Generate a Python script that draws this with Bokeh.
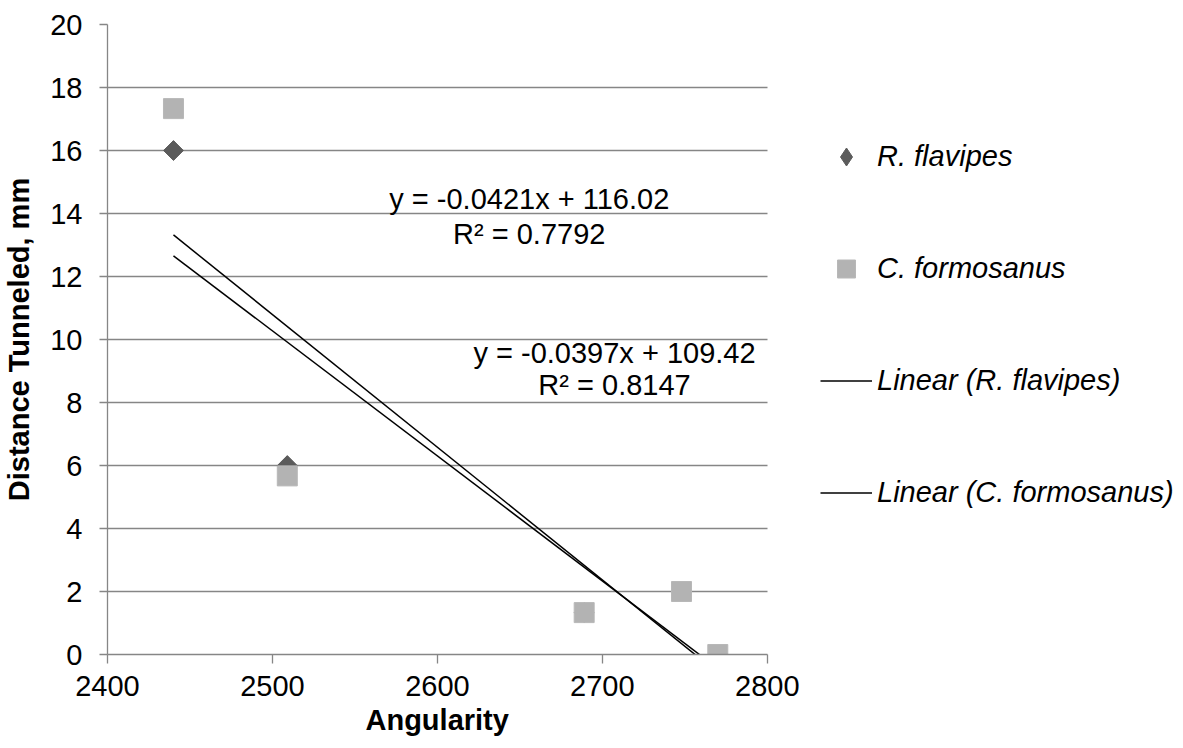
import numpy as np
from bokeh.plotting import figure
from bokeh.models import Legend, LegendItem, Range1d, FixedTicker, ColumnDataSource, Title
from bokeh.core.properties import value
from bokeh.embed import file_html
from bokeh.resources import INLINE

# ---- data ----
angularity = [2440, 2509, 2689, 2748, 2770]
r_flavipes = [16.0, 6.0, 1.33, 2.0, 0.0]
c_formosanus = [17.33, 5.67, 1.33, 2.0, 0.0]
x_ticks = [2400, 2500, 2600, 2700, 2800]
y_ticks = [0, 2, 4, 6, 8, 10, 12, 14, 16, 18, 20]
eq_c_form = ["y = -0.0421x + 116.02", "R² = 0.7792"]
eq_r_flav = ["y = -0.0397x + 109.42", "R² = 0.8147"]

X_MIN, X_MAX = 2400, 2800

FONT = "Liberation Sans"
FS = "29px"
GRID = "#868686"
DARK = "#5b5b5b"
LIGHT = "#b3b3b3"

# layout: plotting area 105..766 px wide; frame extended to the right edge so the
# legend (drawn inside the frame) is not clipped
W, H = 1183, 748
LEFT, AXIS_RIGHT = 105, 766
x_view_end = X_MAX + (X_MAX - X_MIN) * (W - AXIS_RIGHT) / (AXIS_RIGHT - LEFT)

p = figure(width=W, height=H, output_backend="svg", toolbar_location=None,
           x_range=Range1d(X_MIN, x_view_end), y_range=Range1d(0, 20),
           min_border_left=LEFT, min_border_right=0, min_border_top=24, min_border_bottom=94)
p.outline_line_color = None
p.background_fill_color = "white"
p.border_fill_color = "white"

p.xgrid.visible = False
p.ygrid.grid_line_color = GRID
p.ygrid.grid_line_width = 1.3
p.ygrid.ticker = FixedTicker(ticks=y_ticks)
p.ygrid.cross_bounds = (X_MIN, X_MAX)
p.xaxis.ticker = FixedTicker(ticks=x_ticks)
p.yaxis.ticker = FixedTicker(ticks=y_ticks)
p.xaxis.bounds = (X_MIN, X_MAX)

for ax in (p.xaxis[0], p.yaxis[0]):
    ax.axis_line_color = GRID
    ax.axis_line_width = 1.3
    ax.major_tick_line_color = GRID
    ax.major_tick_line_width = 1.3
    ax.major_tick_in = 0
    ax.minor_tick_line_color = None
    ax.major_label_text_font = FONT
    ax.major_label_text_font_size = FS
    ax.major_label_text_color = "black"
    ax.axis_label_text_font = FONT
    ax.axis_label_text_font_size = FS
    ax.axis_label_text_font_style = "bold"
    ax.axis_label_text_color = "black"

p.xaxis.major_tick_out = 9
p.xaxis.major_label_standoff = 12
p.yaxis.major_tick_out = 8
p.yaxis.major_label_standoff = 17
p.yaxis.axis_label = "Distance Tunneled, mm"
p.yaxis.axis_label_standoff = 12

# x-axis title, centred under the 2400..2800 axis (not under the whole frame)
x_title = Title(text="Angularity", align="left", offset=258, standoff=7,
                text_font=FONT, text_font_size=FS, text_font_style="bold", text_color="black")
p.add_layout(x_title, "below")

# points (diamond key glyph is hidden under the rotated squares; it supplies the legend swatch)
r_diamond_key = p.scatter(angularity, r_flavipes, marker="diamond", size=19,
                          fill_color=DARK, line_color=DARK)
r_diamond = p.scatter(angularity, r_flavipes, marker="square", angle=np.pi / 4, size=14,
                      fill_color=DARK, line_color=DARK)
r_square = p.scatter(angularity, c_formosanus, marker="square", size=20,
                     fill_color=LIGHT, line_color="#b8b8b8")

# linear trend lines (least squares from the data)
x_arr = np.array(angularity, dtype=float)
xs = np.array([x_arr.min(), x_arr.max()])
m_r, b_r = np.polyfit(x_arr, np.array(r_flavipes), 1)
m_c, b_c = np.polyfit(x_arr, np.array(c_formosanus), 1)
l_r = p.line(xs, m_r * xs + b_r, line_color="black", line_width=1.5)
l_c = p.line(xs, m_c * xs + b_c, line_color="black", line_width=1.5)

# equation labels
src1 = ColumnDataSource(dict(x=[2655.7, 2655.7], y=[14.47, 13.36], t=eq_c_form))
src2 = ColumnDataSource(dict(x=[2707.4, 2707.4], y=[9.58, 8.54], t=eq_r_flav))
for s in (src1, src2):
    p.text(x="x", y="y", text="t", source=s, text_font=value(FONT), text_font_size=FS,
           text_align="center", text_baseline="middle", text_color="black")

legend = Legend(items=[
    LegendItem(label="R. flavipes", renderers=[r_diamond_key]),
    LegendItem(label="C. formosanus", renderers=[r_square]),
    LegendItem(label="Linear (R. flavipes)", renderers=[l_r]),
    LegendItem(label="Linear (C. formosanus)", renderers=[l_c]),
], location=(713, 139))
legend.label_text_font = FONT
legend.label_text_font_size = FS
legend.label_text_font_style = "italic"
legend.label_text_color = "black"
legend.glyph_width = 52
legend.glyph_height = 45
legend.label_height = 45
legend.label_standoff = 5
legend.spacing = 67
legend.padding = 0
legend.margin = 0
legend.border_line_color = None
legend.background_fill_alpha = 0
p.add_layout(legend, "center")

open("out.html", "w").write(file_html(p, INLINE))
